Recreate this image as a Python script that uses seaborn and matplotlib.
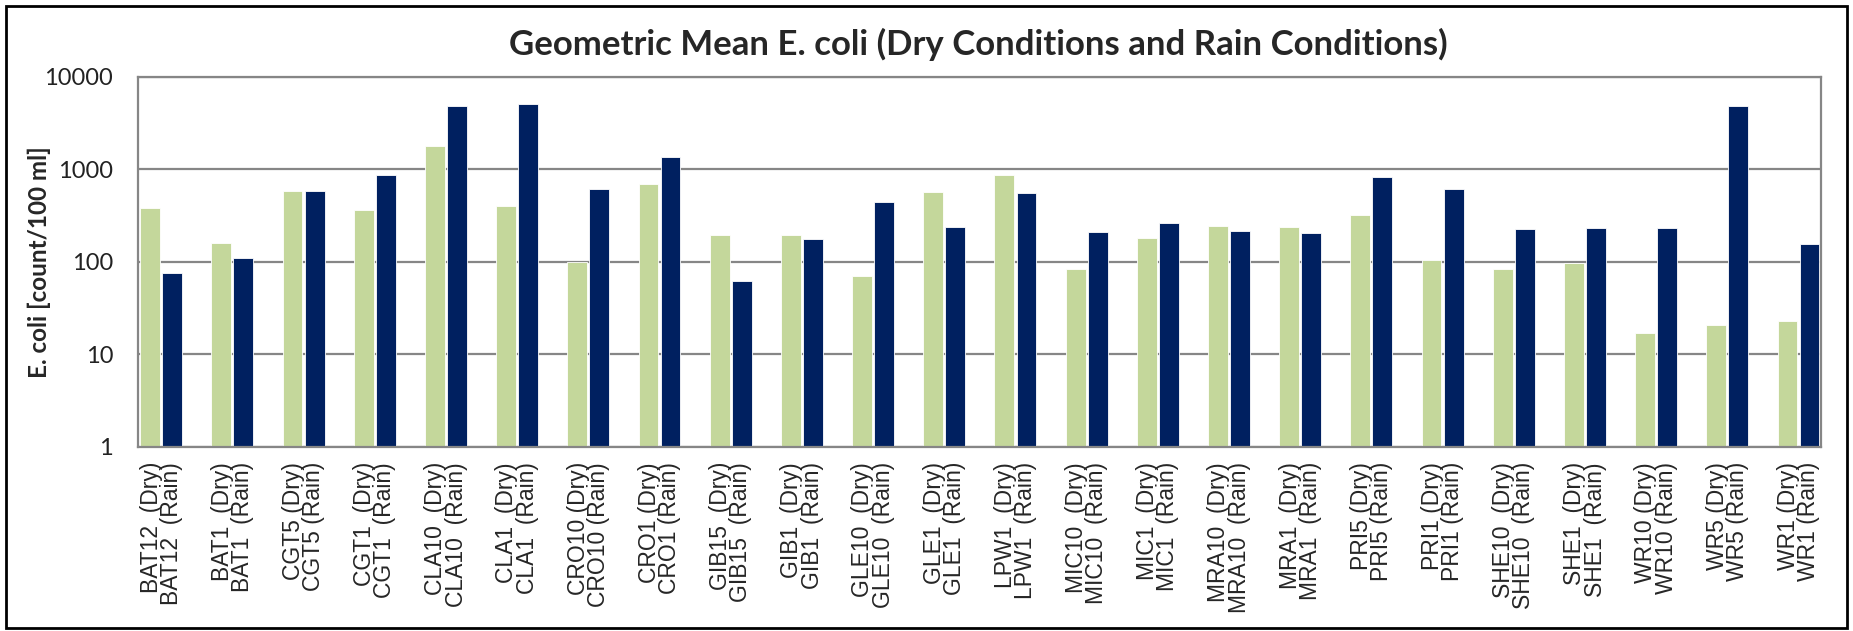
import numpy as np
import pandas as pd
import seaborn as sns
import matplotlib.pyplot as plt
from matplotlib.patches import Rectangle
from matplotlib.ticker import NullLocator

# Sampling stations and geometric mean E. coli (count/100 ml)
stations = ["BAT12", "BAT1", "CGT5", "CGT1", "CLA10", "CLA1", "CRO10", "CRO1",
            "GIB15", "GIB1", "GLE10", "GLE1", "LPW1", "MIC10", "MIC1", "MRA10",
            "MRA1", "PRI5", "PRI1", "SHE10", "SHE1", "WR10", "WR5", "WR1"]
dry = [385, 160, 580, 360, 1800, 400, 100, 690, 195, 195, 70, 570,
       880, 83, 180, 245, 240, 320, 105, 83, 98, 17, 21, 23]
rain = [75, 110, 580, 860, 4900, 5100, 620, 1370, 62, 175, 440, 238,
        560, 212, 262, 215, 205, 820, 620, 225, 230, 230, 4900, 157]
conditions = ["Dry", "Rain"]
yticks = [1, 10, 100, 1000, 10000]
# stations whose labels use a single space before the condition
single_space = ["CGT5", "CRO10", "CRO1", "PRI5", "PRI1", "WR10", "WR5", "WR1"]

n = len(stations)
df = pd.DataFrame({
    "station": stations * 2,
    "cond": ["Dry"] * n + ["Rain"] * n,
    "value": dry + rain,
})
xlabels = []
for s in stations:
    sep = " " if s in single_space else "  "
    xlabels.append(f"{s}{sep}(Dry)\n{s}{sep}(Rain)")

sns.set_theme(style="white")
plt.rcParams["font.family"] = ["Lato", "DejaVu Sans"]

fig = plt.figure(figsize=(18.53, 6.31), dpi=100)
ax = fig.add_axes([0.0745, 0.292, 0.908, 0.586])

sns.barplot(
    data=df, x="station", y="value", hue="cond", hue_order=conditions,
    palette={"Dry": "#C4D79B", "Rain": "#002060"}, saturation=1,
    width=0.62, gap=0.1, errorbar=None,
    edgecolor="white", linewidth=0.6, legend=False, ax=ax,
)
ax.set_yscale("log")

ax.set_ylim(1, 10000)
ax.set_xlim(-0.325, n - 1 + 0.31)
ax.set_yticks(yticks)
ax.set_yticklabels([str(v) for v in yticks], fontsize=17, color="#222222")
ax.yaxis.set_minor_locator(NullLocator())
ax.tick_params(axis="y", length=0, pad=18)
ax.set_xticks(range(n))
ax.set_xticklabels(xlabels, rotation=90, fontsize=16.5, family="Liberation Sans",
                   multialignment="right", linespacing=0.85)
ax.tick_params(axis="x", length=0, pad=11)

ax.yaxis.grid(True, color="#868686", lw=1.6)
ax.set_axisbelow(True)
for sp in ax.spines.values():
    sp.set_color("#868686")
    sp.set_linewidth(1.6)

ax.set_xlabel("")
ax.set_ylabel("E. coli [count/100 ml]", fontsize=17.5, fontweight="bold")
ax.yaxis.set_label_coords(-0.0517, 0.5)
fig.text(0.528, 0.93, "Geometric Mean E. coli (Dry Conditions and Rain Conditions)",
         ha="center", va="center", fontsize=25, fontweight="bold")

# outer chart border
fig.patches.append(Rectangle((0.003, 0.004), 0.994, 0.986, transform=fig.transFigure,
                             fill=False, edgecolor="black", lw=2))

fig.savefig("out.png", dpi=100)
